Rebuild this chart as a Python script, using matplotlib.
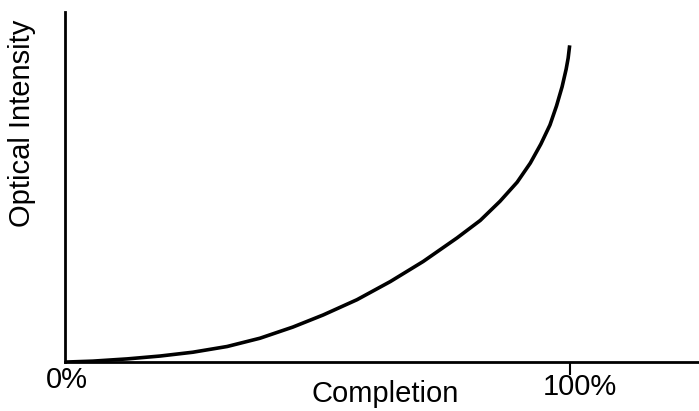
import matplotlib
matplotlib.use("Agg")
import matplotlib.pyplot as plt

# values (x in % completion, y in arbitrary intensity units)
completion = [0, 5.5, 12.3, 18.8, 25.3, 32.1, 38.6, 45.1, 51.1, 57.8, 64.4, 70.9, 77.6,
              82.2, 86.1, 89.5, 92.1, 94.2, 96.0, 97.3, 98.4, 99.2, 99.6, 99.9]
intensity = [0, 0.3, 1.0, 1.9, 3.1, 4.9, 7.5, 11.0, 14.8, 19.6, 25.3, 31.6, 39.0,
             44.5, 50.5, 56.5, 62.5, 68.5, 74.5, 80.5, 86.5, 92.0, 95.5, 99.5]
xlabel_txt = "Completion"
ylabel_txt = "Optical Intensity"
start_txt = "0%"
end_txt = "100%"

plt.rcParams['font.family'] = ['Liberation Sans', 'DejaVu Sans']

fig = plt.figure(figsize=(6.99, 4.11), dpi=100)
ax = fig.add_axes([0.093, 0.119, 0.907, 0.852])

ax.plot(completion, intensity, c='black', lw=2.6, solid_capstyle='butt',
        solid_joinstyle='round')

ax.set_xlim(0, 125.5)
ax.set_ylim(0, 110)
for s in ['top', 'right']:
    ax.spines[s].set_visible(False)
for s in ['left', 'bottom']:
    ax.spines[s].set_linewidth(2)

ax.set_yticks([])
ax.set_xticks([100])
ax.set_xticklabels([''])
ax.tick_params(axis='x', direction='out', length=9, width=1.5)

xt = ax.get_xaxis_transform()
ax.text(0.3, -0.0743, start_txt, ha='center', va='baseline', fontsize=21, transform=xt)
ax.text(102, -0.0943, end_txt, ha='center', va='baseline', fontsize=21, transform=xt)
ax.text(63.4, -0.114, xlabel_txt, ha='center', va='baseline', fontsize=21, transform=xt)
fig.text(0.032, 1 - 123 / 411, ylabel_txt, rotation=90, ha='center', va='center', fontsize=21)

fig.savefig('out.png', dpi=100)
